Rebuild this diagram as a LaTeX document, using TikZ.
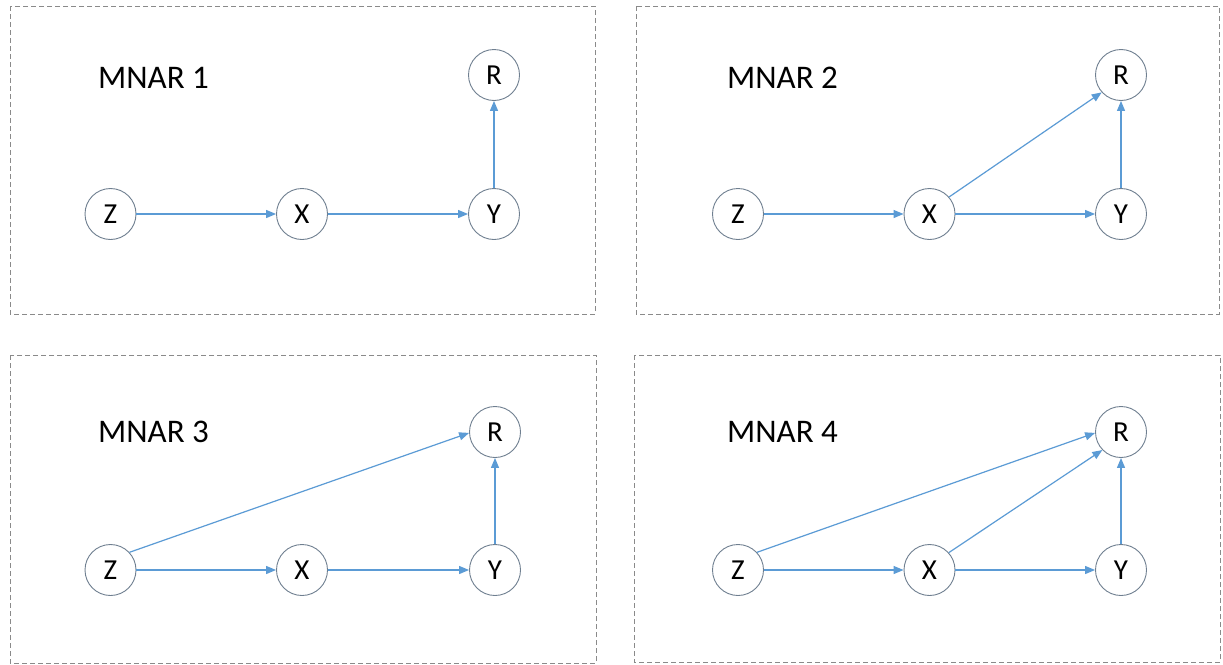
\documentclass[tikz,border=0pt]{standalone}
\usepackage{fontspec}
\setmainfont{Carlito}
\usetikzlibrary{arrows.meta}
\definecolor{edgeblue}{HTML}{5B9BD5}
\definecolor{ringgray}{HTML}{6F7F90}
\definecolor{framegray}{HTML}{8A8A8A}
\tikzset{
  var/.style={circle, draw=ringgray, line width=0.9pt, fill=white,
    minimum size=51pt, inner sep=0pt, font=\fontsize{29}{29}\selectfont},
  edge/.style={draw=edgeblue, line width=1.2pt,
    -{Triangle[length=10pt,width=8pt]}},
  panel/.style={draw=framegray, line width=0.9pt, dash pattern=on 5pt off 3pt},
  title/.style={anchor=base west, inner sep=0pt, font=\fontsize{33}{33}\selectfont}
}
\begin{document}
\begin{tikzpicture}[x=1pt,y=-1pt]
\useasboundingbox[fill=white] (0,0) rectangle (1223,664);

% frames
\draw[panel] (10,6) rectangle (595,314);
\draw[panel] (636,6) rectangle (1219,314);
\draw[panel] (10,355) rectangle (596,663);
\draw[panel] (634,355) rectangle (1220,662);

% MNAR 1
\node[title] (t1) at (98,88) {MNAR 1};
\node[var] (z1) at (110.5,214) {Z};
\node[var] (x1) at (302,214) {X};
\node[var] (y1) at (494,214) {Y};
\node[var] (r1) at (494,75) {R};
\draw[edge] (z1) -- (x1);
\draw[edge] (x1) -- (y1);
\draw[edge] (y1) -- (r1);

% MNAR 2
\node[title] (t2) at (727,88) {MNAR 2};
\node[var] (z2) at (738,214) {Z};
\node[var] (x2) at (929.5,214) {X};
\node[var] (y2) at (1121,214) {Y};
\node[var] (r2) at (1121,75) {R};
\draw[edge] (z2) -- (x2);
\draw[edge] (x2) -- (y2);
\draw[edge] (y2) -- (r2);
\draw[edge] (x2.41) -- (r2.222);

% MNAR 3
\node[title] (t3) at (98,442) {MNAR 3};
\node[var] (z3) at (110.5,570) {Z};
\node[var] (x3) at (302,570) {X};
\node[var] (y3) at (495,570) {Y};
\node[var] (r3) at (495,432) {R};
\draw[edge] (z3) -- (x3);
\draw[edge] (x3) -- (y3);
\draw[edge] (y3) -- (r3);
\draw[edge] (z3.43) -- (r3.182);

% MNAR 4
\node[title] (t4) at (727,442) {MNAR 4};
\node[var] (z4) at (738,570) {Z};
\node[var] (x4) at (929.5,570) {X};
\node[var] (y4) at (1121,570) {Y};
\node[var] (r4) at (1121,432) {R};
\draw[edge] (z4) -- (x4);
\draw[edge] (x4) -- (y4);
\draw[edge] (y4) -- (r4);
\draw[edge] (z4.43) -- (r4.182);
\draw[edge] (x4.42) -- (r4.224);
\end{tikzpicture}
\end{document}
